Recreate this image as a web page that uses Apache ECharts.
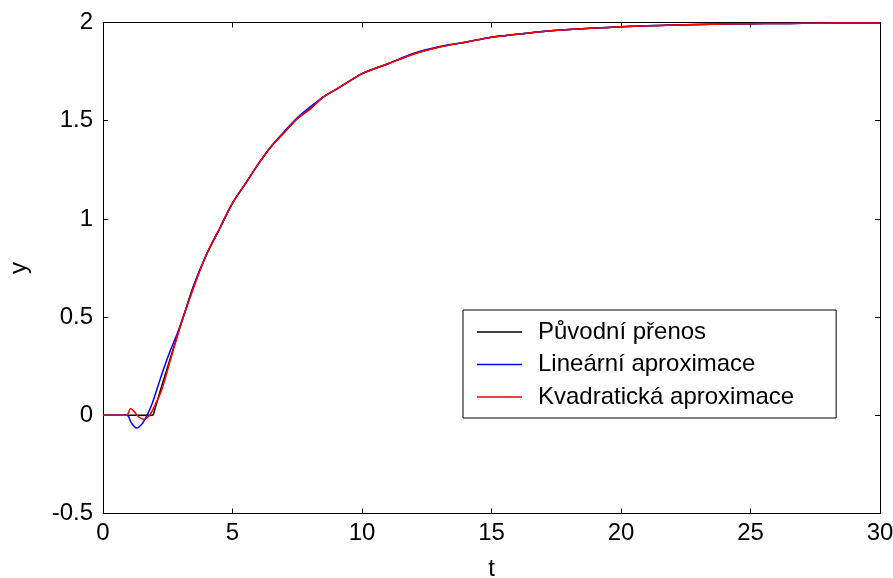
<!DOCTYPE html>
<html>
<head>
<meta charset="utf-8">
<script src="https://cdn.jsdelivr.net/npm/echarts@6/dist/echarts.min.js"></script>
<style>
html,body{margin:0;padding:0;background:#fff;}
#c{width:893px;height:578px;}
</style>
</head>
<body>
<div id="c"></div>
<script>
// Series names
const seriesNames = ['Původní přenos', 'Lineární aproximace', 'Kvadratická aproximace'];

// Original transfer (black)
const tOrig = [0, 1.9, 2.0, 2.2, 2.6, 3.0, 3.5, 4, 4.5, 5, 5.5, 6, 6.5, 7, 7.5, 8, 8.5, 9, 9.5, 10, 11, 12, 13, 14, 15, 16, 17, 18, 19, 20, 21, 22, 23, 24, 25, 26, 27, 28, 29, 30];
const yOrig = [0, 0, 0.03, 0.12, 0.29, 0.46, 0.66, 0.82, 0.95, 1.08, 1.18, 1.28, 1.37, 1.44, 1.51, 1.56, 1.62, 1.66, 1.70, 1.74, 1.79, 1.84, 1.875, 1.90, 1.925, 1.94, 1.954, 1.964, 1.972, 1.978, 1.983, 1.987, 1.990, 1.992, 1.994, 1.995, 1.996, 1.997, 1.998, 1.998];

// Linear approximation (blue)
const tLin = [0, 0.92, 1.1, 1.3, 1.5, 1.7, 1.9, 2.1, 2.35, 2.6, 2.85, 3.2, 3.5, 4, 4.5, 5, 5.5, 6, 6.5, 7, 7.5, 8, 8.5, 9, 9.5, 10, 11, 12, 13, 14, 15, 16, 17, 18, 19, 20, 21, 22, 23, 24, 25, 26, 27, 28, 29, 30];
const yLin = [0, 0, -0.04, -0.065, -0.045, 0, 0.06, 0.14, 0.24, 0.33, 0.41, 0.54, 0.66, 0.82, 0.95, 1.08, 1.18, 1.28, 1.37, 1.445, 1.515, 1.57, 1.62, 1.66, 1.70, 1.74, 1.79, 1.843, 1.878, 1.90, 1.925, 1.94, 1.954, 1.964, 1.972, 1.978, 1.983, 1.987, 1.990, 1.992, 1.994, 1.995, 1.996, 1.997, 1.998, 1.998];

// Quadratic approximation (red)
const tQuad = [0, 0.9, 1.07, 1.2, 1.35, 1.56, 1.8, 2.0, 2.27, 2.6, 3.0, 3.5, 4, 4.5, 5, 5.5, 6, 6.5, 7, 7.5, 8, 8.5, 9, 9.5, 10, 11, 12, 13, 14, 15, 16, 17, 18, 19, 20, 21, 22, 23, 24, 25, 26, 27, 28, 29, 30];
const yQuad = [0, 0, 0.035, 0.02, -0.005, -0.02, 0, 0.05, 0.13, 0.28, 0.46, 0.65, 0.82, 0.95, 1.08, 1.18, 1.28, 1.37, 1.44, 1.51, 1.56, 1.62, 1.66, 1.70, 1.74, 1.79, 1.84, 1.875, 1.90, 1.925, 1.94, 1.954, 1.964, 1.972, 1.978, 1.983, 1.987, 1.990, 1.992, 1.994, 1.995, 1.996, 1.997, 1.998, 1.998];

const xTicks = [0, 5, 10, 15, 20, 25, 30];
const yTicks = [-0.5, 0, 0.5, 1, 1.5, 2];

const pairs = (t, y) => t.map((v, i) => [v, y[i]]);
const FONT = '"Liberation Sans", Arial, sans-serif';
const FS = 24;

const chart = echarts.init(document.getElementById('c'), null, {renderer: 'canvas'});

const axisCommon = {
  axisLine: {show: true, onZero: false, lineStyle: {color: '#000', width: 1}},
  axisTick: {show: true, inside: true, length: 5, lineStyle: {color: '#000', width: 1}},
  splitLine: {show: false}
};

const lineSeries = (name, data, color, z) => ({
  name: name,
  type: 'line',
  data: data,
  showSymbol: false,
  symbol: 'none',
  smooth: 0.3,
  lineStyle: {color: color, width: 1.5},
  itemStyle: {color: color},
  z: z,
  animation: false
});

chart.setOption({
  backgroundColor: '#fff',
  animation: false,
  grid: {left: 103, right: 13, top: 22.5, bottom: 64.5, containLabel: false, outerBoundsMode: 'none'},
  xAxis: [
    Object.assign({
      type: 'value', min: xTicks[0], max: xTicks[xTicks.length - 1], interval: 5,
      name: 't', nameLocation: 'middle', nameGap: 44,
      nameTextStyle: {color: '#000', fontFamily: FONT, fontSize: FS},
      axisLabel: {color: '#000', fontFamily: FONT, fontSize: FS, margin: 8}
    }, axisCommon),
    Object.assign({
      type: 'value', position: 'top', min: xTicks[0], max: xTicks[xTicks.length - 1], interval: 5,
      axisLabel: {show: false}
    }, axisCommon)
  ],
  yAxis: [
    Object.assign({
      type: 'value', min: yTicks[0], max: yTicks[yTicks.length - 1], interval: 0.5,
      name: 'y', nameLocation: 'middle', nameGap: 72, nameRotate: 90,
      nameTextStyle: {color: '#000', fontFamily: FONT, fontSize: FS},
      axisLabel: {color: '#000', fontFamily: FONT, fontSize: FS, margin: 10}
    }, axisCommon),
    Object.assign({
      type: 'value', position: 'right', min: yTicks[0], max: yTicks[yTicks.length - 1], interval: 0.5,
      axisLabel: {show: false}
    }, axisCommon)
  ],
  legend: {
    show: true,
    orient: 'vertical',
    left: 463,
    top: 310,
    data: seriesNames.map(n => ({name: n, icon: 'rect'})),
    itemWidth: 45,
    itemHeight: 1.5,
    itemGap: 2.5,
    padding: [7, 42, 6, 14],
    backgroundColor: '#fff',
    borderColor: '#000',
    borderWidth: 1,
    borderRadius: 0,
    selectedMode: false,
    textStyle: {color: '#000', fontFamily: FONT, fontSize: FS, lineHeight: 30, padding: [0, 0, 0, 11]}
  },
  series: [
    lineSeries(seriesNames[0], pairs(tOrig, yOrig), '#000000', 2),
    lineSeries(seriesNames[1], pairs(tLin, yLin), '#0000ff', 3),
    lineSeries(seriesNames[2], pairs(tQuad, yQuad), '#ff0000', 4)
  ]
});
</script>
</body>
</html>
